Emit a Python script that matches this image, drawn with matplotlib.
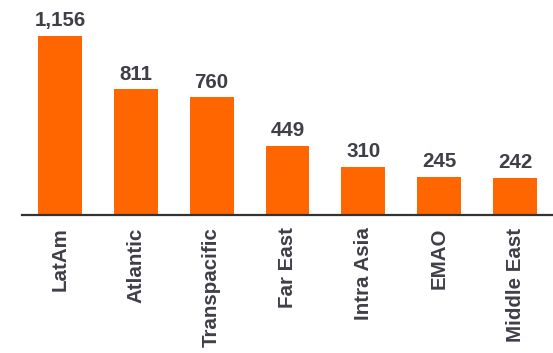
import matplotlib.pyplot as plt

regions = ["LatAm", "Atlantic", "Transpacific", "Far East", "Intra Asia", "EMAO", "Middle East"]
values = [1156, 811, 760, 449, 310, 245, 242]

bar_color = "#FF6600"
text_color = "#3f3f48"

plt.rcParams["font.family"] = ["Liberation Sans", "DejaVu Sans"]

fig = plt.figure(figsize=(5.53, 3.53), dpi=100)
ax = fig.add_axes([22 / 553, 138 / 353, 531 / 553, 215 / 353])

x = range(len(regions))
bars = ax.bar(x, values, width=0.58, color=bar_color)

for xi, v in zip(x, values):
    ax.annotate(f"{v:,}", (xi, v), xytext=(0, 7), textcoords="offset points",
                ha="center", va="baseline", fontsize=14.8, fontweight="bold",
                color=text_color)

ax.set_xlim(-0.5, 6.5)
ax.set_ylim(0, 1389)
ax.set_xticks(list(x))
ax.set_xticklabels(regions, rotation=90, fontsize=14.8, fontweight="bold",
                   color=text_color)
ax.tick_params(axis="x", length=0, pad=9)
ax.set_yticks([])
for side in ["top", "right", "left"]:
    ax.spines[side].set_visible(False)
ax.spines["bottom"].set_color("#333333")
ax.spines["bottom"].set_linewidth(1.6)

fig.savefig("out.png", dpi=100)
